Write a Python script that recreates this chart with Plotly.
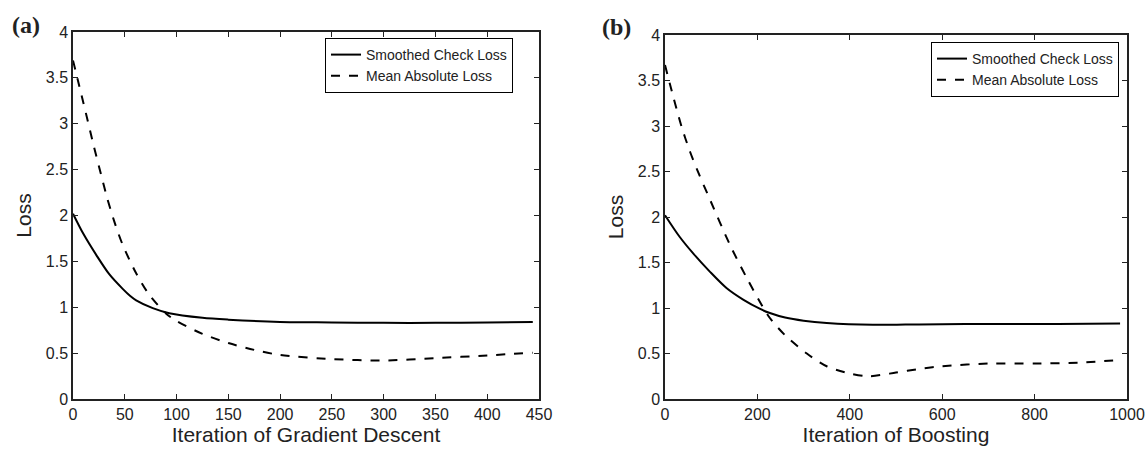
import plotly.graph_objects as go

# Panel (a): Gradient descent
a_iter_smooth = [0, 10, 23, 35, 48, 55, 61, 77, 93, 125, 150, 200, 250, 300, 350, 400, 444]
a_smooth = [2.02, 1.80, 1.56, 1.36, 1.20, 1.125, 1.075, 0.99, 0.935, 0.885, 0.865, 0.84, 0.835, 0.83, 0.83, 0.835, 0.84]
a_iter_mae = [0, 10, 20, 27, 33, 40, 48, 61, 74, 90, 100, 125, 150, 175, 200, 250, 300, 350, 400, 444]
a_mae = [3.69, 3.23, 2.76, 2.45, 2.19, 1.93, 1.68, 1.37, 1.13, 0.93, 0.85, 0.71, 0.61, 0.535, 0.48, 0.435, 0.42, 0.445, 0.475, 0.505]

# Panel (b): Boosting
b_iter_smooth = [0, 32, 61, 97, 133, 170, 206, 227, 260, 300, 350, 450, 550, 650, 750, 850, 985]
b_smooth = [2.02, 1.78, 1.60, 1.40, 1.22, 1.09, 0.99, 0.945, 0.895, 0.86, 0.835, 0.815, 0.82, 0.825, 0.825, 0.825, 0.83]
b_iter_mae = [0, 18, 36, 54, 72, 94, 141, 177, 213, 227, 260, 307, 350, 400, 440, 500, 550, 600, 700, 800, 900, 985]
b_mae = [3.67, 3.32, 2.99, 2.72, 2.49, 2.23, 1.69, 1.33, 1.0, 0.89, 0.70, 0.50, 0.36, 0.28, 0.25, 0.29, 0.33, 0.36, 0.39, 0.39, 0.40, 0.43]

labels = ["Smoothed Check Loss", "Mean Absolute Loss"]
a_xticks = [0, 50, 100, 150, 200, 250, 300, 350, 400, 450]
b_xticks = [0, 200, 400, 600, 800, 1000]
y_ticks = [0, 0.5, 1, 1.5, 2, 2.5, 3, 3.5, 4]

W, H = 1148, 450
ML, MR, MT, MB = 73, 21, 32, 51
PW, PH = W - ML - MR, H - MT - MB


def fx(px):
    return (px - ML) / PW


def fy(py):
    return (H - MB - py) / PH


fig = go.Figure()

fig.add_trace(go.Scatter(x=a_iter_smooth, y=a_smooth, mode="lines", name=labels[0],
                         line=dict(color="black", width=2, shape="spline", smoothing=0.8), xaxis="x", yaxis="y", legend="legend"))
fig.add_trace(go.Scatter(x=a_iter_mae, y=a_mae, mode="lines", name=labels[1],
                         line=dict(color="black", width=2, dash="dash", shape="spline", smoothing=0.8), xaxis="x", yaxis="y", legend="legend"))
fig.add_trace(go.Scatter(x=b_iter_smooth, y=b_smooth, mode="lines", name=labels[0],
                         line=dict(color="black", width=2, shape="spline", smoothing=0.8), xaxis="x2", yaxis="y2", legend="legend2"))
fig.add_trace(go.Scatter(x=b_iter_mae, y=b_mae, mode="lines", name=labels[1],
                         line=dict(color="black", width=2, dash="dash", shape="spline", smoothing=0.8), xaxis="x2", yaxis="y2", legend="legend2"))

axis_common = dict(showgrid=False, zeroline=False, showline=True, linecolor="#222", linewidth=1.5,
                   mirror="allticks", ticks="inside", ticklen=5, tickcolor="#222", tickwidth=1,
                   automargin=False,
                   tickfont=dict(family="Liberation Sans, Arial", size=16, color="#222"))

legend_common = dict(xanchor="right", yanchor="top", xref="paper", yref="paper",
                     bordercolor="black", borderwidth=1, bgcolor="white",
                     font=dict(family="Liberation Sans, Arial", size=14, color="#222"),
                     tracegroupgap=0, itemwidth=30)

title_font = dict(family="Liberation Sans, Arial", size=21, color="#222")

fig.update_layout(
    width=W, height=H, margin=dict(l=ML, r=MR, t=MT, b=MB, autoexpand=False),
    paper_bgcolor="white", plot_bgcolor="white",
    font=dict(family="Liberation Sans, Arial", color="#222"),
    xaxis=dict(domain=[0, fx(539)], range=[0, 450], tickvals=a_xticks, anchor="y",
               title=dict(text="Iteration of Gradient Descent", font=title_font, standoff=4), **axis_common),
    yaxis=dict(domain=[0, 1], range=[0, 4], tickvals=y_ticks, anchor="x",
               title=dict(text="Loss", font=title_font, standoff=8), **axis_common),
    xaxis2=dict(domain=[fx(665), 1], range=[0, 1000], tickvals=b_xticks, anchor="y2",
                title=dict(text="Iteration of Boosting", font=title_font, standoff=4), **axis_common),
    yaxis2=dict(domain=[0, fy(35)], range=[0, 4], tickvals=y_ticks, anchor="x2",
                title=dict(text="Loss", font=title_font, standoff=8), **axis_common),
    legend=dict(x=fx(513), y=fy(38), **legend_common),
    legend2=dict(x=fx(1119), y=fy(42), **legend_common),
    showlegend=True,
    annotations=[
        dict(text="<b>(a)</b>", x=fx(10), y=fy(25), xref="paper", yref="paper", xanchor="left", yanchor="middle",
             showarrow=False, font=dict(family="Liberation Serif, Times New Roman", size=24, color="#222")),
        dict(text="<b>(b)</b>", x=fx(600), y=fy(27), xref="paper", yref="paper", xanchor="left", yanchor="middle",
             showarrow=False, font=dict(family="Liberation Serif, Times New Roman", size=24, color="#222")),
    ],
)

fig.write_html("out.html", config={"displayModeBar": False},
               post_script="document.body.style.margin='0px';document.body.style.overflow='hidden';")
